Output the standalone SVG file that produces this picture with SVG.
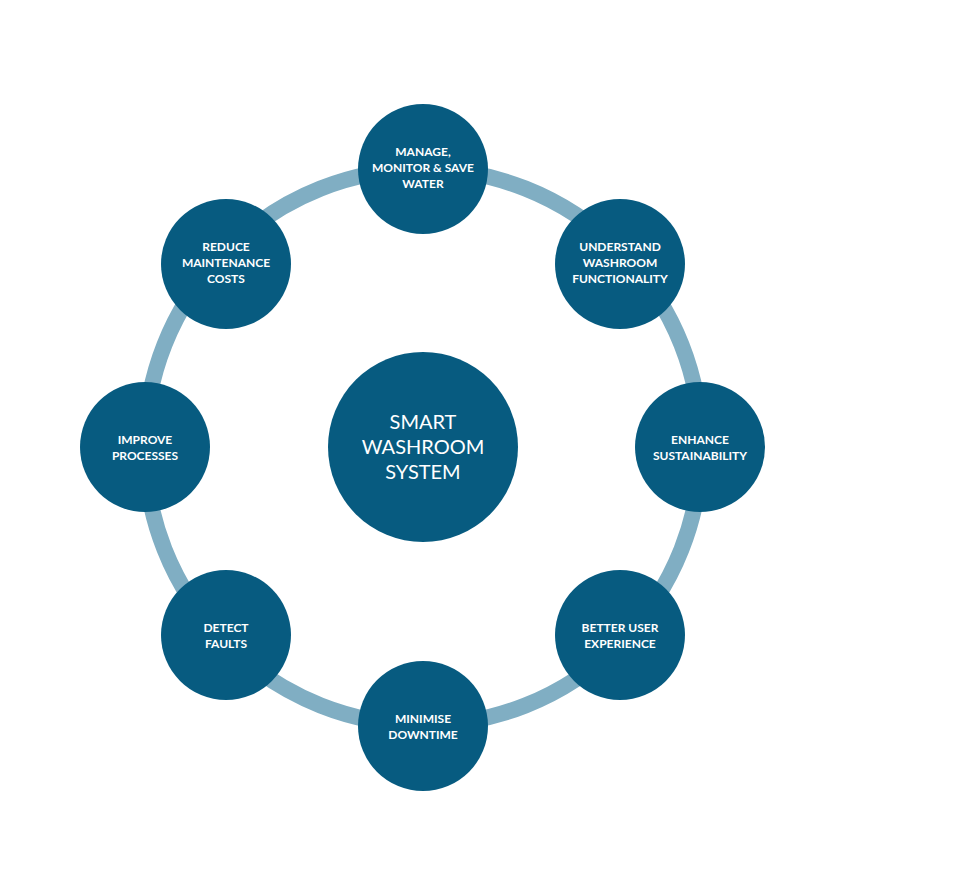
<svg xmlns="http://www.w3.org/2000/svg" width="953" height="895" viewBox="0 0 953 895">
<style>
.n{fill:#075b80}
.t{fill:#fff;font-family:Lato,"Liberation Sans",sans-serif;font-weight:bold;font-size:12px;text-anchor:middle}
.c{fill:#fff;font-family:Lato,"Liberation Sans",sans-serif;font-size:20px;text-anchor:middle}
</style>
<rect width="953" height="895" fill="#fff"/>
<g id="connectors"><circle cx="423" cy="447" r="278" fill="none" stroke="#80aec3" stroke-width="16"/></g>
<g id="center"><circle class="n" cx="423" cy="447" r="95"/><text class="c" x="423" y="429">SMART</text><text class="c" x="423" y="454">WASHROOM</text><text class="c" x="423" y="479">SYSTEM</text></g>
<g id="n1"><circle class="n" cx="423" cy="169" r="65"/><text class="t" x="423" y="156">MANAGE,</text><text class="t" x="423" y="172">MONITOR &amp; SAVE</text><text class="t" x="423" y="188">WATER</text></g>
<g id="n2"><circle class="n" cx="620" cy="264" r="65"/><text class="t" x="620" y="251">UNDERSTAND</text><text class="t" x="620" y="267">WASHROOM</text><text class="t" x="620" y="283">FUNCTIONALITY</text></g>
<g id="n3"><circle class="n" cx="700" cy="447" r="65"/><text class="t" x="700" y="444">ENHANCE</text><text class="t" x="700" y="460">SUSTAINABILITY</text></g>
<g id="n4"><circle class="n" cx="620" cy="635" r="65"/><text class="t" x="620" y="632">BETTER USER</text><text class="t" x="620" y="648">EXPERIENCE</text></g>
<g id="n5"><circle class="n" cx="423" cy="726" r="65"/><text class="t" x="423" y="723">MINIMISE</text><text class="t" x="423" y="739">DOWNTIME</text></g>
<g id="n6"><circle class="n" cx="226" cy="635" r="65"/><text class="t" x="226" y="632">DETECT</text><text class="t" x="226" y="648">FAULTS</text></g>
<g id="n7"><circle class="n" cx="145" cy="447" r="65"/><text class="t" x="145" y="444">IMPROVE</text><text class="t" x="145" y="460">PROCESSES</text></g>
<g id="n8"><circle class="n" cx="226" cy="264" r="65"/><text class="t" x="226" y="251">REDUCE</text><text class="t" x="226" y="267">MAINTENANCE</text><text class="t" x="226" y="283">COSTS</text></g>
</svg>
